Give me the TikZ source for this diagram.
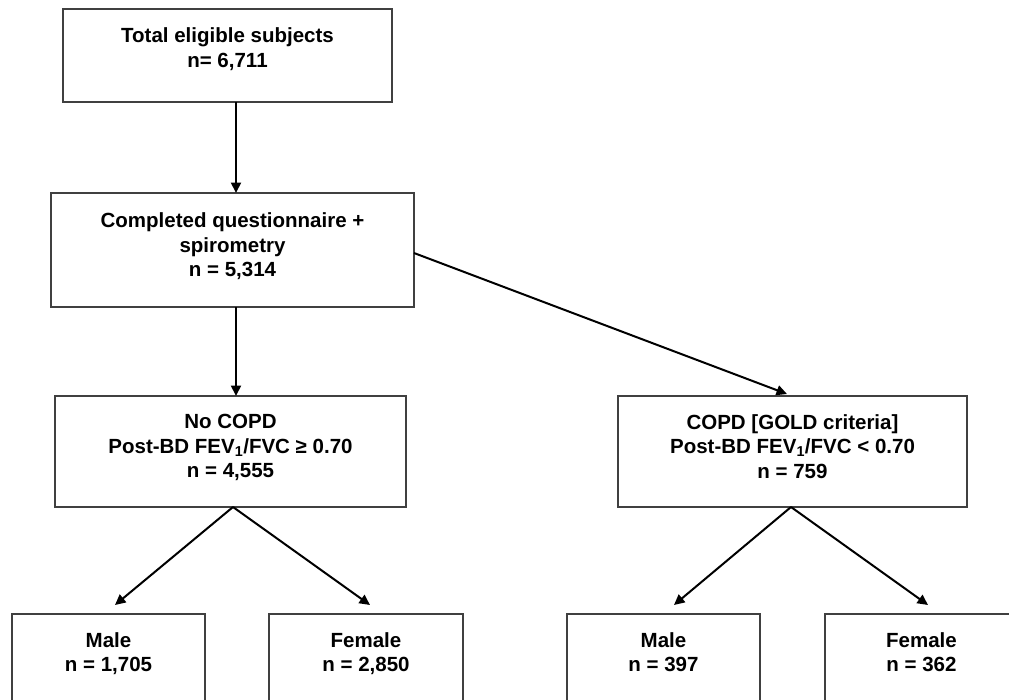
\documentclass[tikz,border=0pt]{standalone}
\usepackage{fontspec}
\setmainfont{Liberation Sans}
\usetikzlibrary{arrows.meta}
\definecolor{boxgray}{HTML}{404040}
\begin{document}
\begin{tikzpicture}[x=1pt,y=-1pt,
  box/.style={draw=boxgray, line width=1.1pt, rectangle, inner sep=0pt, outer sep=0pt},
  txt/.style={anchor=north, inner sep=0pt, align=center, text=black,
              font=\bfseries\fontsize{20.5}{24.5}\selectfont},
  arr/.style={draw=black, line width=2pt, -{Triangle[length=10.5pt,width=10pt]}}
]
\useasboundingbox (0,0) rectangle (1009,699);
\clip (0,0) rectangle (1009,699);
\fill[white] (0,0) rectangle (1009,699);

% boxes
\node[box, minimum width=329pt, minimum height=93pt]  (top)    at (227.5,55.5) {};
\node[box, minimum width=363pt, minimum height=114pt] (comp)   at (232.5,250) {};
\node[box, minimum width=351pt, minimum height=111pt] (nocopd) at (230.5,451.5) {};
\node[box, minimum width=349pt, minimum height=111pt] (copd)   at (792.5,451.5) {};
\node[box, minimum width=193pt, minimum height=120pt] (maleL)  at (108.5,674) {};
\node[box, minimum width=194pt, minimum height=120pt] (femL)   at (366,674) {};
\node[box, minimum width=193pt, minimum height=120pt] (maleR)  at (663.5,674) {};
\node[box, minimum width=193pt, minimum height=120pt] (femR)   at (921.5,674) {};

% texts
\node[txt] (ttop)    at ([yshift=-18.5pt]top.north)    {Total eligible subjects\\n= 6,711};
\node[txt] (tcomp)   at ([yshift=-19.5pt]comp.north)   {Completed questionnaire +\\spirometry\\n = 5,314};
\node[txt] (tnocopd) at ([yshift=-18pt]nocopd.north)   {No COPD\\Post-BD FEV\textsubscript{1}/FVC ≥ 0.70\\n = 4,555};
\node[txt] (tcopd)   at ([yshift=-18pt]copd.north)     {COPD [GOLD criteria]\\Post-BD FEV\textsubscript{1}/FVC < 0.70\\n = 759};
\node[txt] (tmaleL)  at ([yshift=-18pt]maleL.north)    {Male\\n = 1,705};
\node[txt] (tfemL)   at ([yshift=-18pt]femL.north)     {Female\\n = 2,850};
\node[txt] (tmaleR)  at ([yshift=-18pt]maleR.north)    {Male\\n = 397};
\node[txt] (tfemR)   at ([yshift=-18pt]femR.north)     {Female\\n = 362};

% connectors
\draw[arr] ([xshift=8.5pt]top.south) -- ([xshift=8.5pt]top.south |- comp.north);
\draw[arr] ([xshift=3.5pt]comp.south) -- ([xshift=3.5pt]comp.south |- nocopd.north);
\draw[arr] ([yshift=-3pt]comp.east) -- ([xshift=-5.5pt,yshift=2pt]copd.north);
\draw[arr] ([xshift=2.5pt]nocopd.south) -- ([xshift=6.5pt,yshift=9pt]maleL.north);
\draw[arr] ([xshift=2.5pt]nocopd.south) -- ([xshift=4pt,yshift=9pt]femL.north);
\draw[arr] ([xshift=-1.5pt]copd.south) -- ([xshift=10.5pt,yshift=9pt]maleR.north);
\draw[arr] ([xshift=-1.5pt]copd.south) -- ([xshift=6.5pt,yshift=9pt]femR.north);
\end{tikzpicture}
\end{document}
